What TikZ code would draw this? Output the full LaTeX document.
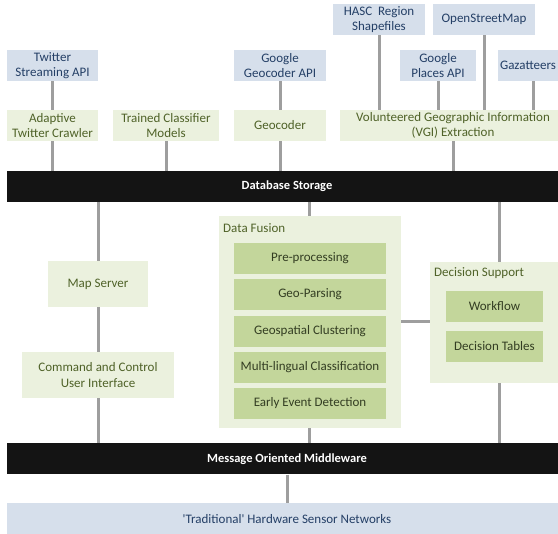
\documentclass[tikz,border=0pt]{standalone}
\usepackage{fontspec}
\setmainfont{Carlito}
\definecolor{bluefill}{HTML}{D6DFEB}
\definecolor{bluetext}{HTML}{243F66}
\definecolor{greenfill}{HTML}{EBF1DE}
\definecolor{greentext}{HTML}{4F6228}
\definecolor{innerfill}{HTML}{C3D69B}
\definecolor{innertext}{HTML}{333D22}
\definecolor{barfill}{HTML}{141414}
\definecolor{linegray}{HTML}{9E9E9E}
\tikzset{
  base/.style={inner sep=0pt, align=center, font=\fontsize{13}{15.5}\selectfont},
  bluebox/.style={base, fill=bluefill, text=bluetext},
  greenbox/.style={base, fill=greenfill, text=greentext},
  innerbox/.style={base, fill=innerfill, text=innertext, minimum width=152pt, minimum height=31pt},
  bar/.style={base, fill=barfill, text=white, font=\fontsize{12.5}{14}\selectfont\bfseries, minimum width=560pt, minimum height=31pt},
  conn/.style={draw=linegray, line width=3pt},
  lbl/.style={base, text=greentext, anchor=west}
}
\begin{document}
\begin{tikzpicture}[x=1pt,y=-1pt]
\useasboundingbox (0,0) rectangle (558,534);
\clip (0,0) rectangle (558,534);
% top sources
\node[bluebox, minimum width=91pt, minimum height=31pt] (twapi) at (52.5,65.5) {Twitter\\Streaming API};
\node[bluebox, minimum width=92pt, minimum height=31pt] (ggeo) at (280,65.5) {Google\\Geocoder API};
\node[bluebox, minimum width=92pt, minimum height=31pt] (hasc) at (379,19.5) {HASC\ \ Region\\Shapefiles};
\node[bluebox, minimum width=102pt, minimum height=31pt] (osm) at (484,19.5) {OpenStreetMap};
\node[bluebox, minimum width=76pt, minimum height=31pt] (gplaces) at (438,65.5) {Google\\Places API};
\node[bluebox, minimum width=70pt, minimum height=31pt] (gaz) at (533,65.5) {\hspace*{-10pt}Gazatteers};
% second row
\node[greenbox, minimum width=91pt, minimum height=31pt] (crawler) at (52.5,125.5) {Adaptive\\Twitter Crawler};
\node[greenbox, minimum width=106pt, minimum height=31pt] (tcm) at (166,125.5) {Trained Classifier\\Models};
\node[greenbox, minimum width=92pt, minimum height=31pt] (geocoder) at (280,125.5) {Geocoder};
\node[greenbox, minimum width=226pt, minimum height=31pt] (vgi) at (453,125.5) {Volunteered Geographic Information\\(VGI) Extraction};
% bars
\node[bar] (db) at (287,186.5) {Database Storage};
\node[bar] (mom) at (287,459) {Message Oriented Middleware};
\node[bluebox, minimum width=560pt, minimum height=31pt] (hw) at (287,519) {\textquotesingle Traditional\textquotesingle{} Hardware Sensor Networks};
% left column
\node[greenbox, minimum width=100pt, minimum height=46pt] (map) at (98,284) {Map Server};
\node[greenbox, minimum width=152pt, minimum height=46pt] (cmd) at (98,375) {Command and Control\\User Interface};
% data fusion
\node[greenbox, minimum width=182pt, minimum height=212pt] (df) at (310,322) {};
\node[lbl] (dflbl) at (223,228) {Data Fusion};
\node[innerbox] (pre) at (310,258.5) {Pre-processing};
\node[innerbox] (gp) at (310,294.5) {Geo-Parsing};
\node[innerbox] (gc) at (310,331.5) {Geospatial Clustering};
\node[innerbox] (mlc) at (310,367.5) {Multi-lingual Classification};
\node[innerbox] (eed) at (310,403.5) {Early Event Detection};
% decision support
\node[greenbox, minimum width=138pt, minimum height=121pt] (ds) at (499,322.5) {};
\node[lbl] (dslbl) at (434,273) {Decision Support};
\node[innerbox, minimum width=97pt] (wf) at (494.5,306.5) {Workflow};
\node[innerbox, minimum width=97pt] (dt) at (494.5,346.5) {Decision Tables};
% connectors
\draw[conn] (twapi.south) -- (crawler.north);
\draw[conn] (ggeo.south) -- (geocoder.north);
\draw[conn] (hasc.south) -- (hasc.south |- vgi.north);
\draw[conn] (osm.south) -- (osm.south |- vgi.north);
\draw[conn] (gplaces.south) -- (gplaces.south |- vgi.north);
\draw[conn] (gaz.south) -- (gaz.south |- vgi.north);
\draw[conn] (crawler.south) -- (crawler.south |- db.north);
\draw[conn] (tcm.south) -- (tcm.south |- db.north);
\draw[conn] (geocoder.south) -- (geocoder.south |- db.north);
\draw[conn] (vgi.south) -- (vgi.south |- db.north);
\draw[conn] (map.north) -- (map.north |- db.south);
\draw[conn] (map.south) -- (cmd.north);
\draw[conn] (cmd.south) -- (cmd.south |- mom.north);
\draw[conn] (df.north -| 309,0) -- (309,0 |- db.south);
\draw[conn] (df.south -| 309,0) -- (309,0 |- mom.north);
\draw[conn] (ds.north) -- (ds.north |- db.south);
\draw[conn] (ds.south) -- (ds.south |- mom.north);
\draw[conn] (df.east |- 0,322) -- (ds.west |- 0,322);
\draw[conn] (mom.south -| hw.north) -- (hw.north);
\end{tikzpicture}
\end{document}
